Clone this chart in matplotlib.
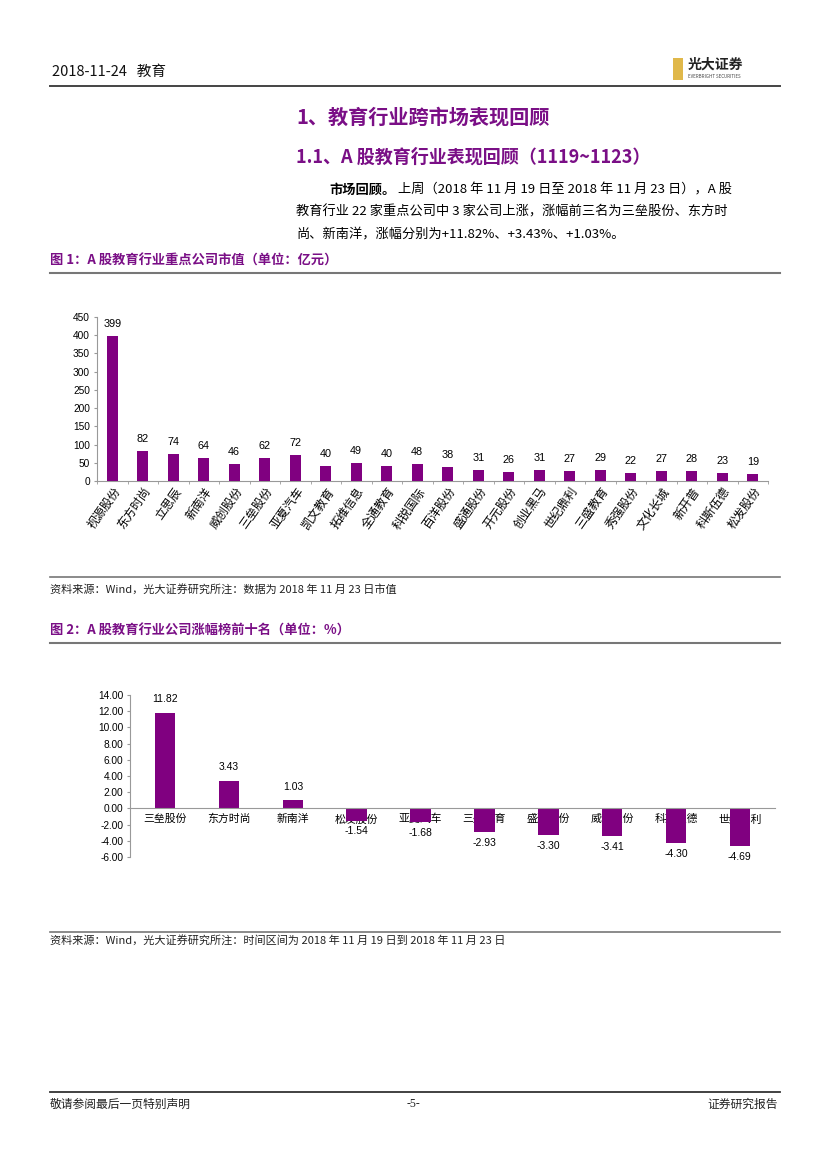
import matplotlib
matplotlib.use("Agg")
import matplotlib.pyplot as plt
from matplotlib.patches import Rectangle
import numpy as np

plt.rcParams['font.family'] = ['Noto Sans CJK SC', 'DejaVu Sans']

# ---------------- data ----------------
companies1 = ["视源股份", "东方时尚", "立思辰", "新南洋", "威创股份", "三垒股份", "亚夏汽车",
              "凯文教育", "拓维信息", "全通教育", "科锐国际", "百洋股份", "盛通股份", "开元股份",
              "创业黑马", "世纪鼎利", "三盛教育", "秀强股份", "文化长城", "新开普", "科斯伍德", "松发股份"]
market_cap = [399, 82, 74, 64, 46, 62, 72, 40, 49, 40, 48, 38, 31, 26, 31, 27, 29, 22, 27, 28, 23, 19]
yticks1 = [0, 50, 100, 150, 200, 250, 300, 350, 400, 450]

companies2 = ["三垒股份", "东方时尚", "新南洋", "松发股份", "亚夏汽车", "三盛教育",
              "盛通股份", "威创股份", "科斯伍德", "世纪鼎利"]
pct_change = [11.82, 3.43, 1.03, -1.54, -1.68, -2.93, -3.30, -3.41, -4.30, -4.69]
yticks2 = [-6, -4, -2, 0, 2, 4, 6, 8, 10, 12, 14]

PURPLE = "#800080"
TITLE_PURPLE = "#7A0F86"
W, H = 827, 1169

fig = plt.figure(figsize=(W / 100, H / 100), dpi=100)


def fx(px):
    return px / W


def fy(py):
    return 1 - py / H


def hline(y, x0=50, x1=780, color="#555555", lw=1.2):
    fig.add_artist(plt.Line2D([fx(x0), fx(x1)], [fy(y), fy(y)], color=color, lw=lw,
                              transform=fig.transFigure))


# ---------------- header ----------------
fig.text(fx(52), fy(72), "2018-11-24   教育", fontsize=10.5, va="center", ha="left", color="#111111")
hline(86, 50, 780, color="#444444", lw=1.4)
# logo
fig.add_artist(Rectangle((fx(673), fy(80)), fx(10), 22 / H, transform=fig.transFigure,
                         facecolor="#E0B84A", edgecolor="none"))
fig.text(fx(688), fy(65), "光大证券", fontsize=10, fontweight="bold", va="center", ha="left", color="#222222")
fig.text(fx(688), fy(77), "EVERBRIGHT SECURITIES", fontsize=3.2, va="center", ha="left", color="#444444")

# ---------------- headings ----------------
fig.text(fx(296), fy(117), "1、教育行业跨市场表现回顾", fontsize=14.5, fontweight="bold",
         color=TITLE_PURPLE, va="center", ha="left")
fig.text(fx(296), fy(157), "1.1、A 股教育行业表现回顾（1119~1123）", fontsize=13, fontweight="bold",
         color=TITLE_PURPLE, va="center", ha="left")

para_fs = 9.5
fig.text(fx(329), fy(190), "市场回顾。", fontsize=para_fs, fontweight="bold", va="center", ha="left")
fig.text(fx(398), fy(190), "上周（2018 年 11 月 19 日至 2018 年 11 月 23 日），A 股",
         fontsize=para_fs, va="center", ha="left")
fig.text(fx(296), fy(212), "教育行业 22 家重点公司中 3 家公司上涨，涨幅前三名为三垒股份、东方时",
         fontsize=para_fs, va="center", ha="left")
fig.text(fx(296), fy(234), "尚、新南洋，涨幅分别为+11.82%、+3.43%、+1.03%。",
         fontsize=para_fs, va="center", ha="left")

# ---------------- figure 1 ----------------
fig.text(fx(50), fy(261), "图 1：A 股教育行业重点公司市值（单位：亿元）", fontsize=9.5, fontweight="bold",
         color=TITLE_PURPLE, va="center", ha="left")
hline(273, 50, 780, color="#777777", lw=1.5)

ax1 = fig.add_axes([fx(97), fy(481), fx(768) - fx(97), fy(317) - fy(481)])
x1 = np.arange(len(companies1))
ax1.bar(x1, market_cap, width=0.37, color=PURPLE, zorder=3)
ax1.set_xlim(-0.5, len(companies1) - 0.5)
ax1.set_ylim(0, 450)
ax1.set_yticks(yticks1)
ax1.set_yticklabels([str(v) for v in yticks1], fontsize=7.3, family=["Liberation Sans", "DejaVu Sans"])
ax1.set_xticks(x1)
ax1.set_xticklabels(companies1, rotation=55, ha="right", rotation_mode="anchor", fontsize=8.6)
ax1.tick_params(axis="x", length=0, pad=3)
ax1.set_xticks(np.arange(-0.5, len(companies1), 1), minor=True)
ax1.tick_params(axis="x", which="minor", length=2, color="#999999")
ax1.tick_params(axis="y", length=2, color="#999999", pad=3)
for s in ["top", "right"]:
    ax1.spines[s].set_visible(False)
for s in ["left", "bottom"]:
    ax1.spines[s].set_color("#999999")
    ax1.spines[s].set_linewidth(0.8)
for xi, v in zip(x1, market_cap):
    ax1.annotate(str(v), (xi, v), xytext=(0, 5), textcoords="offset points", ha="center", va="bottom",
                 fontsize=7.8, family=["Liberation Sans", "DejaVu Sans"])

hline(577, 50, 780, color="#777777", lw=1.2)
fig.text(fx(50), fy(590), "资料来源：Wind，光大证券研究所注：数据为 2018 年 11 月 23 日市值",
         fontsize=8, va="center", ha="left", color="#222222")

# ---------------- figure 2 ----------------
fig.text(fx(50), fy(631), "图 2：A 股教育行业公司涨幅榜前十名（单位：%）", fontsize=9.5, fontweight="bold",
         color=TITLE_PURPLE, va="center", ha="left")
hline(643, 50, 780, color="#777777", lw=1.5)

ax2 = fig.add_axes([fx(130), fy(857), fx(775) - fx(130), fy(695) - fy(857)])
x2 = np.arange(len(companies2))
ax2.bar(x2, pct_change, width=0.32, color=PURPLE, zorder=2)
ax2.set_xlim(-0.55, len(companies2) - 0.45)
ax2.set_ylim(-6, 14)
ax2.set_yticks(yticks2)
ax2.set_yticklabels([f"{v:.2f}" for v in yticks2], fontsize=7.3, family=["Liberation Sans", "DejaVu Sans"])
ax2.spines["bottom"].set_position(("data", 0))
ax2.set_xticks(x2)
ax2.set_xticklabels(companies2, fontsize=7.8, zorder=5)
ax2.tick_params(axis="x", length=0, pad=4)
ax2.tick_params(axis="y", length=2, color="#999999", pad=3)
for s in ["top", "right"]:
    ax2.spines[s].set_visible(False)
for s in ["left", "bottom"]:
    ax2.spines[s].set_color("#999999")
    ax2.spines[s].set_linewidth(0.8)
for xi, v in zip(x2, pct_change):
    if v >= 0:
        ax2.annotate(f"{v:.2f}", (xi, v), xytext=(0, 6), textcoords="offset points", ha="center",
                     va="bottom", fontsize=7.5, family=["Liberation Sans", "DejaVu Sans"])
    else:
        ax2.annotate(f"{v:.2f}", (xi, v), xytext=(0, -4), textcoords="offset points", ha="center",
                     va="top", fontsize=7.5, family=["Liberation Sans", "DejaVu Sans"])

hline(932, 50, 780, color="#777777", lw=1.2)
fig.text(fx(50), fy(941), "资料来源：Wind，光大证券研究所注：时间区间为 2018 年 11 月 19 日到 2018 年 11 月 23 日",
         fontsize=8, va="center", ha="left", color="#222222")

# ---------------- footer ----------------
hline(1092, 50, 780, color="#333333", lw=1.3)
fig.text(fx(50), fy(1104), "敬请参阅最后一页特别声明", fontsize=8.5, va="center", ha="left", color="#222222")
fig.text(fx(413), fy(1104), "-5-", fontsize=8.5, va="center", ha="center", color="#222222",
         family=["Liberation Serif", "DejaVu Serif"])
fig.text(fx(778), fy(1104), "证券研究报告", fontsize=8.5, va="center", ha="right", color="#222222")

fig.savefig("out.png", dpi=100)
